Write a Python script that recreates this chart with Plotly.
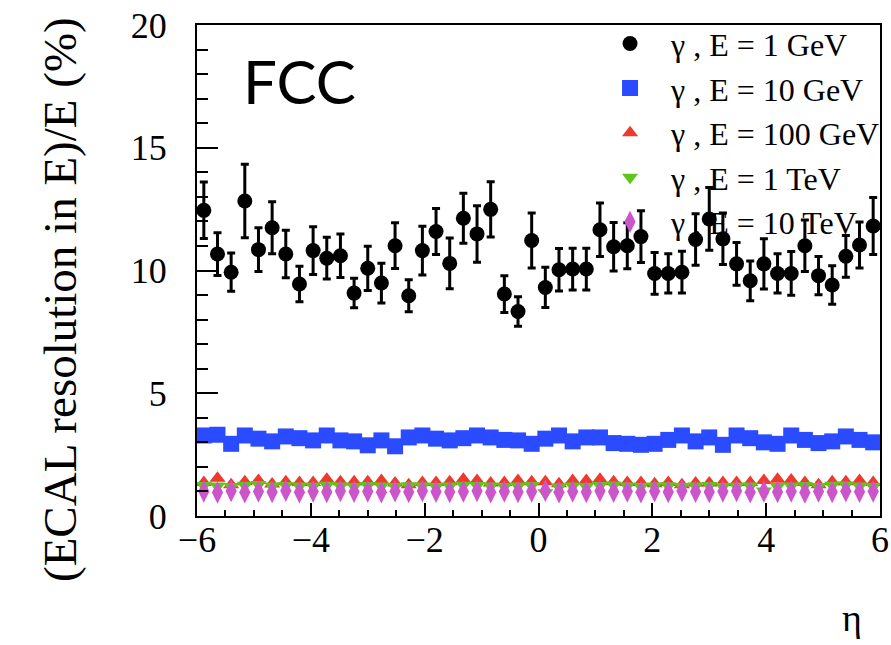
import plotly.graph_objects as go

eta = [-5.88, -5.64, -5.40, -5.16, -4.92, -4.68, -4.44, -4.20, -3.96, -3.72,
       -3.48, -3.24, -3.00, -2.76, -2.52, -2.28, -2.04, -1.80, -1.56, -1.32,
       -1.08, -0.84, -0.60, -0.36, -0.12, 0.12, 0.36, 0.60, 0.84, 1.08,
       1.32, 1.56, 1.80, 2.04, 2.28, 2.52, 2.76, 3.00, 3.24, 3.48,
       3.72, 3.96, 4.20, 4.44, 4.68, 4.92, 5.16, 5.40, 5.64, 5.88]

res_1gev = [12.45, 10.67, 9.93, 12.83, 10.85, 11.74, 10.67, 9.45, 10.81, 10.5,
            10.6, 9.08, 10.09, 9.49, 11.01, 8.97, 10.81, 11.59, 10.29, 12.13,
            11.49, 12.49, 9.04, 8.33, 11.22, 9.31, 10.03, 10.06, 10.06, 11.66,
            10.97, 11.01, 11.38, 9.88, 9.88, 9.93, 11.26, 12.1, 11.29, 10.27,
            9.58, 10.27, 9.88, 9.88, 11.01, 9.79, 9.41, 10.58, 11.04, 11.81]
err_1gev = [1.15, 0.87, 0.78, 1.5, 0.89, 1.06, 0.97, 0.72, 0.97, 0.85,
            0.89, 0.6, 0.9, 0.81, 0.93, 0.65, 0.99, 0.94, 1.03, 1.02,
            1.15, 1.13, 0.75, 0.6, 1.12, 0.82, 0.87, 0.85, 0.85, 1.09,
            0.99, 0.94, 1.05, 0.85, 0.8, 0.85, 1.05, 1.28, 1.05, 0.87,
            0.81, 1.02, 0.8, 0.89, 1.05, 0.78, 0.78, 0.85, 0.94, 1.16]
res_10gev = [3.28, 3.31, 2.94, 3.28, 3.15, 3.04, 3.24, 3.17, 3.08, 3.28,
             3.08, 3.04, 2.88, 3.08, 2.84, 3.2, 3.28, 3.15, 3.08, 3.17,
             3.28, 3.2, 3.1, 3.08, 2.94, 3.15, 3.28, 3.04, 3.2, 3.2,
             2.97, 2.94, 2.9, 2.94, 3.1, 3.28, 3.04, 3.2, 2.9, 3.28,
             3.17, 3.0, 2.94, 3.28, 3.1, 2.97, 3.04, 3.24, 3.1, 3.0]
res_100gev = [1.36, 1.54, 1.27, 1.40, 1.45, 1.30, 1.40, 1.36, 1.36, 1.50,
              1.40, 1.40, 1.40, 1.45, 1.34, 1.27, 1.36, 1.36, 1.40, 1.50,
              1.45, 1.34, 1.36, 1.45, 1.40, 1.40, 1.31, 1.45, 1.45, 1.50,
              1.40, 1.36, 1.36, 1.31, 1.36, 1.27, 1.34, 1.34, 1.36, 1.36,
              1.36, 1.45, 1.50, 1.47, 1.36, 1.27, 1.40, 1.40, 1.45, 1.36]
res_1tev = [1.24, 1.22, 1.20, 1.25, 1.28, 1.22, 1.24, 1.22, 1.21, 1.25,
            1.22, 1.20, 1.24, 1.22, 1.20, 1.23, 1.22, 1.20, 1.22, 1.25,
            1.24, 1.22, 1.20, 1.22, 1.24, 0.95, 1.18, 1.22, 1.20, 1.24,
            1.26, 1.22, 1.20, 1.22, 1.23, 1.20, 1.22, 1.24, 1.20, 1.21,
            1.22, 1.02, 1.20, 1.22, 1.24, 1.20, 1.25, 1.26, 1.22, 1.20]
res_10tev = [1.00, 0.96, 1.02, 0.97, 1.00, 0.98, 1.03, 0.97, 1.00, 0.98,
             1.02, 0.99, 1.00, 0.97, 1.01, 0.98, 1.02, 0.99, 0.98, 1.00,
             1.02, 0.97, 1.00, 0.98, 1.00, 1.03, 0.97, 1.00, 0.98, 1.02,
             0.99, 1.00, 0.97, 1.01, 0.98, 1.02, 0.99, 0.98, 1.00, 1.02,
             0.97, 1.00, 0.98, 1.00, 0.96, 1.00, 0.98, 1.01, 0.99, 1.00]

names = ["γ , E = 1 GeV", "γ , E = 10 GeV", "γ , E = 100 GeV",
         "γ , E = 1 TeV", "γ , E = 10 TeV"]

SERIF = "Liberation Serif, Times New Roman, serif"

fig = go.Figure()
fig.add_trace(go.Scatter(
    x=eta, y=res_1gev, mode="markers", name=names[0],
    marker=dict(symbol="circle", size=15, color="black"),
    error_y=dict(type="data", array=err_1gev, color="black", thickness=3, width=4)))
fig.add_trace(go.Scatter(
    x=eta, y=res_10gev, mode="markers", name=names[1],
    marker=dict(symbol="square", size=16, color="#2a4bff")))
fig.add_trace(go.Scatter(
    x=eta, y=res_100gev, mode="markers", name=names[2],
    marker=dict(symbol="triangle-up", size=14, color="#ee3a2c")))
fig.add_trace(go.Scatter(
    x=eta, y=res_1tev, mode="markers", name=names[3],
    marker=dict(symbol="triangle-down", size=14, color="#5ec51a")))
fig.add_trace(go.Scatter(
    x=eta, y=res_10tev, mode="markers", name=names[4],
    marker=dict(symbol="diamond-tall", size=16, color="#cc55cc")))

fig.update_layout(
    template="none",
    width=891, height=645,
    margin=dict(l=197, r=11, t=25, b=129, autoexpand=False),
    paper_bgcolor="white", plot_bgcolor="white",
    font=dict(family=SERIF, color="black"),
    showlegend=True,
    legend=dict(x=0.574, y=1.018, xanchor="left", yanchor="top",
                bgcolor="rgba(0,0,0,0)", borderwidth=0,
                font=dict(family=SERIF, size=32, color="black"),
                itemwidth=72, tracegroupgap=0),
)
fig.update_xaxes(
    automargin=False,
    range=[-6, 6], dtick=2, tick0=-6, ticks="inside", ticklen=13, tickwidth=1.5,
    tickcolor="black", showline=True, linecolor="black", linewidth=2, mirror=True,
    showgrid=False, zeroline=False, ticklabelstandoff=-9,
    tickfont=dict(family=SERIF, size=36, color="black"),
    minor=dict(dtick=0.5, ticks="inside", ticklen=6, tickwidth=1.5, tickcolor="black", showgrid=False),
)
fig.update_yaxes(
    automargin=False,
    range=[0, 20], dtick=5, tick0=0, ticks="inside", ticklen=21, tickwidth=1.5,
    tickcolor="black", showline=True, linecolor="black", linewidth=2, mirror=True,
    showgrid=False, zeroline=False, ticklabelstandoff=21,
    tickfont=dict(family=SERIF, size=36, color="black"),
    minor=dict(dtick=1, ticks="inside", ticklen=11, tickwidth=1.5, tickcolor="black", showgrid=False),
)

fig.add_annotation(text="FCC", xref="paper", yref="paper",
                   x=(299 - 197) / 683, y=(516 - 81) / 491,
                   xanchor="center", yanchor="middle", showarrow=False,
                   font=dict(family="Lato, Noto Sans, sans-serif", size=60, color="black"))
fig.add_annotation(text="(ECAL resolution in E)/E (%)", xref="paper", yref="paper",
                   x=(60 - 197) / 683, y=(516 - 300) / 491, textangle=-90,
                   xanchor="center", yanchor="middle", showarrow=False,
                   font=dict(family=SERIF, size=47, color="black"))
fig.add_annotation(text="η", xref="paper", yref="paper",
                   x=(852 - 197) / 683, y=(516 - 618) / 491,
                   xanchor="center", yanchor="middle", showarrow=False,
                   font=dict(family=SERIF, size=38, color="black"))

fig.write_html("out.html")
